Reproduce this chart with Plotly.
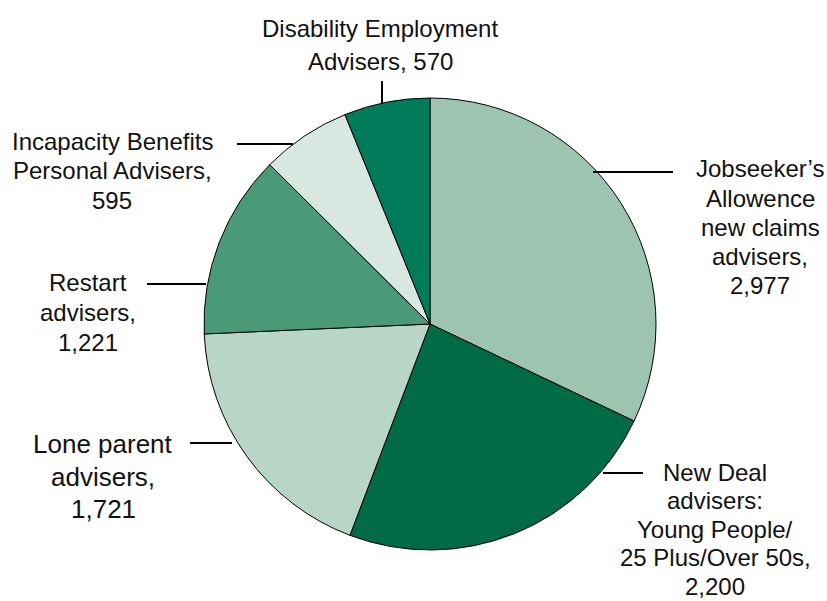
import plotly.graph_objects as go

W, H = 827, 601

categories = [
    "Jobseeker’s Allowence new claims advisers",
    "New Deal advisers: Young People/ 25 Plus/Over 50s",
    "Lone parent advisers",
    "Restart advisers",
    "Incapacity Benefits Personal Advisers",
    "Disability Employment Advisers",
]
values = [2977, 2200, 1721, 1221, 595, 570]
colors = ["#9dc4b1", "#006b45", "#b7d6c8", "#4a9a79", "#d8e8e0", "#007c5a"]

label_lines = [
    ["Jobseeker’s", "Allowence", "new claims", "advisers,", "2,977"],
    ["New Deal", "advisers:", "Young People/", "25 Plus/Over 50s,", "2,200"],
    ["Lone parent", "advisers,", "1,721"],
    ["Restart", "advisers,", "1,221"],
    ["Incapacity Benefits", "Personal Advisers,", "595"],
    ["Disability Employment", "Advisers, 570"],
]
# label layout (px): center x, first line center y, line spacing, font size
label_layout = [
    (760, 169, 29.2, 24),
    (715, 472, 28.5, 24),
    (103, 444, 32.5, 26),
    (88, 282, 30.0, 24),
    (112, 141, 30.0, 24),
    (380, 29, 32.0, 24),
]
# leader lines (px): x0, y0, x1, y1
leaders = [
    (593, 172, 673, 172),
    (603, 473, 643, 473),
    (190, 443, 232, 443),
    (147, 284, 206, 284),
    (237, 144, 293, 144),
    (382, 81, 382, 104),
]

cx, cy, r = 430, 324, 226

def px(x):
    return x / W

def py(y):
    return 1 - y / H

fig = go.Figure(go.Pie(
    labels=categories,
    values=values,
    sort=False,
    direction="clockwise",
    rotation=0,
    textinfo="none",
    hoverinfo="label+value",
    marker=dict(colors=colors, line=dict(color="#000000", width=1)),
    domain=dict(x=[px(cx - r), px(cx + r)], y=[py(cy + r), py(cy - r)]),
    showlegend=False,
))

annotations = []
for lines, (x, y0, dy, s) in zip(label_lines, label_layout):
    for i, t in enumerate(lines):
        annotations.append(dict(
            text=t, x=px(x), y=py(y0 + i * dy), xref="paper", yref="paper",
            xanchor="center", yanchor="middle", align="center", showarrow=False,
            font=dict(family="Liberation Sans, Arial, sans-serif", size=s, color="#111111"),
        ))

shapes = []
for x0, y0, x1, y1 in leaders:
    shapes.append(dict(
        type="line", xref="paper", yref="paper",
        x0=px(x0), y0=py(y0), x1=px(x1), y1=py(y1),
        line=dict(color="#000000", width=2),
    ))

fig.update_layout(
    width=W, height=H,
    margin=dict(l=0, r=0, t=0, b=0),
    paper_bgcolor="white", plot_bgcolor="white",
    annotations=annotations, shapes=shapes,
)

fig.write_html("out.html")
